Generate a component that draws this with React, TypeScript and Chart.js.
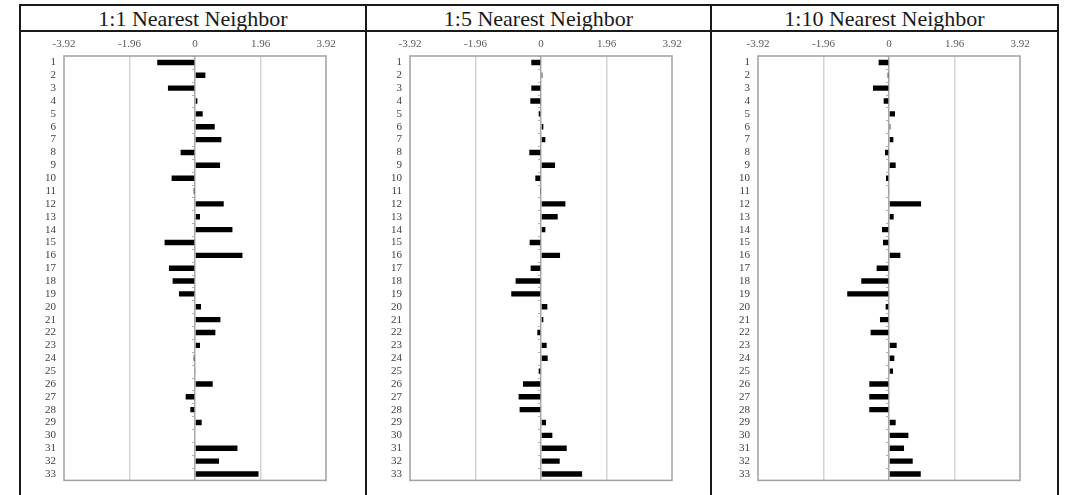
import React, { useEffect, useRef } from "react";
import { Chart, registerables } from "chart.js";

Chart.register(...registerables);

const categories = [
  "1", "2", "3", "4", "5", "6", "7", "8", "9", "10", "11",
  "12", "13", "14", "15", "16", "17", "18", "19", "20", "21", "22",
  "23", "24", "25", "26", "27", "28", "29", "30", "31", "32", "33",
];

const tickValues = [-3.92, -1.96, 0, 1.96, 3.92];
const tickLabels = ["-3.92", "-1.96", "0", "1.96", "3.92"];

const panelTitles = ["1:1 Nearest Neighbor", "1:5 Nearest Neighbor", "1:10 Nearest Neighbor"];

const nn1 = [
  -1.13, 0.31, -0.81, 0.07, 0.23, 0.59, 0.79, -0.43, 0.75, -0.7, -0.04,
  0.86, 0.15, 1.12, -0.91, 1.42, -0.78, -0.67, -0.48, 0.18, 0.76, 0.61,
  0.15, -0.04, 0.02, 0.53, -0.28, -0.14, 0.2, 0.0, 1.27, 0.72, 1.9,
];

const nn5 = [
  -0.29, 0.04, -0.29, -0.32, -0.07, 0.07, 0.13, -0.35, 0.42, -0.17, -0.03,
  0.73, 0.5, 0.13, -0.34, 0.57, -0.31, -0.76, -0.89, 0.19, 0.07, -0.11,
  0.17, 0.2, -0.07, -0.54, -0.67, -0.64, 0.15, 0.34, 0.77, 0.56, 1.23,
];

const nn10 = [
  -0.31, -0.04, -0.48, -0.16, 0.18, 0.04, 0.13, -0.12, 0.2, -0.09, -0.02,
  0.96, 0.14, -0.21, -0.18, 0.34, -0.37, -0.83, -1.25, -0.1, -0.27, -0.55,
  0.23, 0.16, 0.12, -0.59, -0.59, -0.59, 0.2, 0.58, 0.45, 0.71, 0.95,
];

const SERIF = '"Liberation Serif", "DejaVu Serif", serif';

const framePlugin = {
  id: "plotFrame",
  afterDatasetsDraw(chart: any) {
    const { ctx, chartArea } = chart;
    const xs = chart.scales.x;
    const ys = chart.scales.y;
    ctx.save();
    const x0 = xs.getPixelForValue(0);
    ctx.strokeStyle = "#b0b0b0";
    ctx.lineWidth = 1;
    const n = chart.data.labels.length;
    for (let i = 0; i <= n; i++) {
      const y = Math.round(ys.getPixelForValue(i - 0.5)) + 0.5;
      ctx.beginPath();
      ctx.moveTo(x0 - 3, y);
      ctx.lineTo(x0, y);
      ctx.stroke();
    }
    ctx.strokeStyle = "#a0a0a0";
    ctx.lineWidth = 1.5;
    ctx.strokeRect(chartArea.left, chartArea.top, chartArea.right - chartArea.left, chartArea.bottom - chartArea.top);
    ctx.restore();
  },
};

type PanelProps = {
  title: string;
  values: number[];
  left: number;
  width: number;
  plotOffset: number;
};

const PLOT_W = 262;
const CANVAS_TOP = 32;
const CANVAS_H = 463;

function Panel({ title, values, left, width, plotOffset }: PanelProps) {
  const ref = useRef<HTMLCanvasElement | null>(null);

  useEffect(() => {
    if (!ref.current) return;
    const chart = new Chart(ref.current, {
      type: "bar",
      data: {
        labels: categories,
        datasets: [
          {
            data: values,
            backgroundColor: "#000000",
            borderWidth: 0,
            barPercentage: 0.42,
            categoryPercentage: 1,
          },
        ],
      },
      plugins: [framePlugin],
      options: {
        indexAxis: "y",
        animation: false,
        responsive: false,
        maintainAspectRatio: false,
        devicePixelRatio: 1,
        layout: {
          padding: { left: 0, right: width - plotOffset - PLOT_W, top: 0, bottom: 12 },
        },
        plugins: {
          legend: { display: false },
          tooltip: { enabled: false },
          title: { display: false },
        },
        scales: {
          x: {
            type: "linear",
            position: "top",
            min: -3.92,
            max: 3.92,
            afterBuildTicks: (scale: any) => {
              scale.ticks = tickValues.map((v) => ({ value: v }));
            },
            afterFit: (scale: any) => {
              scale.height = 24;
            },
            ticks: {
              autoSkip: false,
              maxRotation: 0,
              padding: 5,
              color: "#595959",
              font: { family: SERIF, size: 11 },
              callback: (v: any) => {
                const i = tickValues.indexOf(Number(v));
                return i >= 0 ? tickLabels[i] : "";
              },
            },
            grid: {
              drawTicks: false,
              lineWidth: 1.5,
              color: (c: any) => {
                const v = c.tick ? c.tick.value : null;
                if (v === 0) return "#a8a8a8";
                if (v === -1.96 || v === 1.96) return "#d4d4d4";
                return "rgba(0,0,0,0)";
              },
            },
            border: { display: false },
          },
          y: {
            type: "category",
            afterFit: (scale: any) => {
              scale.width = plotOffset;
            },
            ticks: {
              autoSkip: false,
              padding: 8,
              color: "#404040",
              font: { family: SERIF, size: 11 },
            },
            grid: { display: false, drawTicks: false },
            border: { display: false },
          },
        },
      },
    });
    return () => chart.destroy();
  }, [values, width, plotOffset]);

  return (
    <>
      <div
        style={{
          position: "absolute",
          left,
          top: 5,
          width,
          height: 25,
          lineHeight: "27px",
          textAlign: "center",
          fontFamily: SERIF,
          fontSize: 22,
          color: "#1a1a1a",
          whiteSpace: "nowrap",
        }}
      >
        {title}
      </div>
      <canvas
        ref={ref}
        width={width}
        height={CANVAS_H}
        style={{ position: "absolute", left, top: CANVAS_TOP, width, height: CANVAS_H }}
      />
    </>
  );
}

const line = (l: number, t: number, w: number, h: number, c = "#1a1a1a") => (
  <div style={{ position: "absolute", left: l, top: t, width: w, height: h, background: c }} />
);

export default function App() {
  return (
    <div
      style={{
        position: "absolute",
        left: 0,
        top: 0,
        width: 1071,
        height: 495,
        background: "#ffffff",
        overflow: "hidden",
      }}
    >
      <Panel title={panelTitles[0]} values={nn1} left={21} width={344} plotOffset={43} />
      <Panel title={panelTitles[1]} values={nn5} left={367} width={343} plotOffset={43} />
      <Panel title={panelTitles[2]} values={nn10} left={712} width={345} plotOffset={46} />
      {line(19, 4, 1040, 2)}
      {line(19, 30, 1040, 2)}
      {line(19, 4, 2, 491)}
      {line(365, 4, 2, 491)}
      {line(710, 4, 2, 491)}
      {line(1057, 4, 2, 491)}
    </div>
  );
}
